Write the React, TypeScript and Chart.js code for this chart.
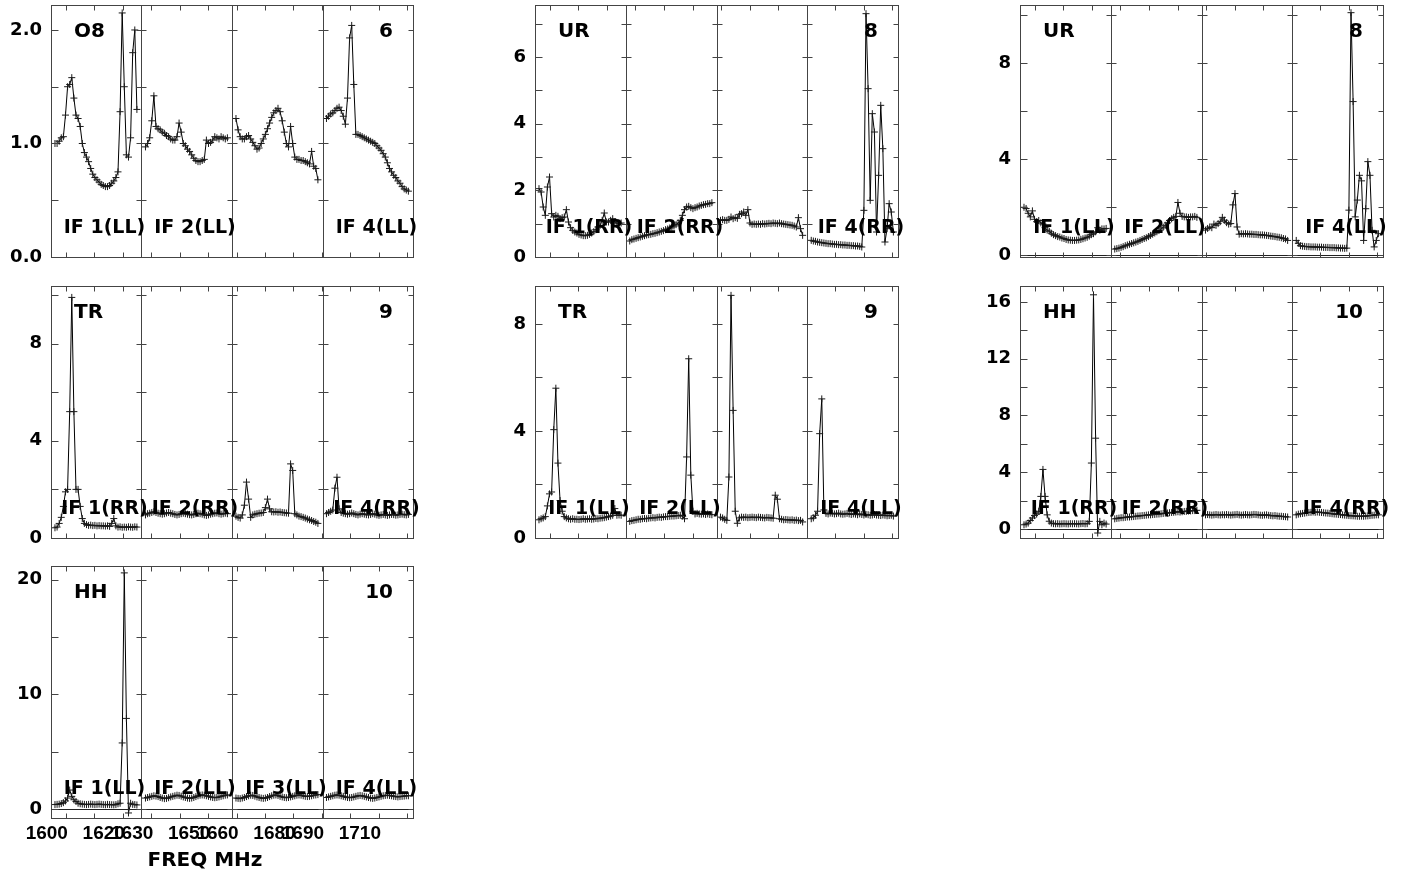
import React, { useEffect, useRef } from 'react';
import { Chart, registerables } from 'chart.js';

Chart.register(...registerables);

// ---------------- DATA (autocorrelation amplitude per channel, 40 channels per IF) ----------------
const O8_LL_IF1 = [1.0,1.0,1.02,1.05,1.06,1.25,1.5,1.52,1.58,1.4,1.25,1.22,1.15,1.0,0.92,0.88,0.84,0.78,0.73,0.7,0.68,0.66,0.64,0.63,0.62,0.62,0.63,0.65,0.67,0.7,0.75,1.28,2.15,1.5,0.9,0.88,1.05,1.8,2.0,1.3];
const O8_LL_IF2 = [0.97,1.0,1.05,1.2,1.42,1.15,1.13,1.12,1.1,1.09,1.07,1.06,1.04,1.03,1.03,1.06,1.18,1.1,1.0,0.98,0.95,0.93,0.9,0.87,0.85,0.84,0.84,0.85,0.86,1.03,1.0,1.01,1.03,1.06,1.05,1.04,1.06,1.05,1.04,1.05];
const O8_LL_IF3 = [1.22,1.12,1.06,1.04,1.04,1.06,1.07,1.04,1.01,0.98,0.95,0.96,1.0,1.04,1.08,1.13,1.18,1.23,1.27,1.29,1.31,1.28,1.2,1.1,1.0,0.97,1.15,1.0,0.88,0.86,0.86,0.85,0.85,0.84,0.83,0.82,0.93,0.8,0.78,0.68];
const O8_LL_IF4 = [1.22,1.24,1.26,1.27,1.29,1.31,1.32,1.29,1.24,1.17,1.4,1.93,2.04,1.52,1.08,1.08,1.07,1.06,1.05,1.04,1.03,1.02,1.01,1.0,0.98,0.96,0.94,0.91,0.88,0.83,0.78,0.75,0.72,0.7,0.67,0.65,0.62,0.6,0.59,0.58];

const UR_RR_IF1 = [2.05,1.95,1.5,1.25,2.1,2.4,1.3,1.2,1.25,1.22,1.15,1.18,1.2,1.42,1.05,0.88,0.8,0.75,0.72,0.68,0.66,0.64,0.64,0.65,0.68,0.72,0.76,0.82,0.9,0.95,1.1,1.32,1.05,1.05,1.1,1.15,1.05,1.02,1.0,1.02];
const UR_RR_IF2 = [0.48,0.52,0.54,0.56,0.58,0.6,0.62,0.64,0.66,0.67,0.68,0.7,0.71,0.73,0.75,0.77,0.79,0.82,0.84,0.87,0.9,0.93,0.97,1.02,1.1,1.25,1.42,1.5,1.52,1.48,1.45,1.48,1.5,1.53,1.55,1.57,1.58,1.6,1.6,1.63];
const UR_RR_IF3 = [1.1,1.12,1.1,1.1,1.13,1.2,1.15,1.18,1.16,1.28,1.3,1.35,1.25,1.42,1.02,0.98,0.99,0.98,0.99,0.98,1.0,0.99,1.0,1.01,1.0,1.02,1.01,1.0,1.02,1.0,0.99,0.98,0.97,0.96,0.95,0.93,0.9,1.18,0.85,0.65];
const UR_RR_IF4 = [0.5,0.48,0.47,0.45,0.44,0.43,0.42,0.41,0.4,0.4,0.39,0.38,0.38,0.37,0.37,0.36,0.36,0.35,0.35,0.34,0.34,0.33,0.33,0.32,0.3,1.4,7.3,5.05,1.7,4.3,3.75,0.75,2.45,4.55,3.25,0.45,0.85,1.6,1.35,0.75];

const UR_LL_IF1 = [2.0,1.95,1.75,1.6,1.85,1.5,1.4,1.45,1.35,1.3,1.15,1.05,1.0,0.92,0.86,0.82,0.78,0.76,0.72,0.7,0.66,0.64,0.63,0.62,0.62,0.63,0.64,0.66,0.69,0.72,0.75,0.8,0.86,0.9,0.98,1.15,1.05,1.1,1.1,1.12];
const UR_LL_IF2 = [0.26,0.28,0.3,0.33,0.36,0.4,0.43,0.46,0.49,0.52,0.55,0.58,0.62,0.66,0.7,0.73,0.78,0.83,0.88,0.93,0.98,1.03,1.1,1.17,1.25,1.35,1.45,1.52,1.58,1.62,2.2,1.75,1.62,1.6,1.6,1.58,1.6,1.6,1.62,1.58];
const UR_LL_IF3 = [1.05,1.12,1.18,1.15,1.3,1.25,1.32,1.4,1.58,1.46,1.36,1.3,1.32,2.1,2.57,1.18,0.88,0.9,0.89,0.9,0.89,0.88,0.88,0.87,0.87,0.86,0.85,0.85,0.84,0.83,0.82,0.8,0.79,0.78,0.76,0.75,0.73,0.7,0.68,0.62];
const UR_LL_IF4 = [0.62,0.5,0.4,0.38,0.37,0.36,0.36,0.35,0.35,0.35,0.34,0.34,0.34,0.33,0.33,0.33,0.32,0.32,0.32,0.31,0.31,0.3,0.3,0.29,0.3,1.88,10.1,6.4,1.6,2.3,3.33,3.1,0.62,1.94,3.9,3.33,1.04,0.35,0.62,0.9];

const TR_RR_IF1 = [0.42,0.45,0.6,0.85,1.3,1.9,2.0,5.2,9.9,5.2,2.0,2.0,1.3,0.8,0.6,0.55,0.52,0.53,0.51,0.52,0.5,0.51,0.5,0.5,0.49,0.5,0.48,0.6,0.8,0.5,0.45,0.46,0.44,0.45,0.44,0.46,0.45,0.44,0.46,0.45];
const TR_RR_IF2 = [0.95,1.0,1.02,1.05,1.08,1.05,1.02,1.0,0.98,1.0,1.03,1.05,1.02,1.0,0.97,0.95,0.97,1.0,1.02,1.0,0.98,0.96,0.95,0.97,1.0,1.02,1.0,0.98,0.95,0.93,0.95,0.98,1.0,1.02,1.03,1.0,0.98,1.0,1.02,1.0];
const TR_RR_IF3 = [0.9,0.85,0.82,0.95,1.35,2.3,1.6,0.85,0.95,0.98,1.0,1.02,1.03,1.05,1.25,1.6,1.2,1.08,1.07,1.08,1.06,1.07,1.05,1.04,1.03,1.02,3.05,2.78,1.0,0.95,0.9,0.88,0.85,0.82,0.78,0.75,0.72,0.68,0.65,0.6];
const TR_RR_IF4 = [1.0,1.05,1.1,1.15,2.05,2.5,1.2,1.05,1.02,1.0,0.98,1.0,1.03,1.0,0.97,0.95,0.98,1.0,0.98,0.96,0.95,0.97,1.0,0.98,0.95,0.93,0.95,0.97,0.95,0.93,0.95,0.97,0.96,0.94,0.95,0.97,0.98,0.96,0.95,0.97];

const TR_LL_IF1 = [0.68,0.72,0.75,0.8,1.2,1.65,1.72,4.05,5.6,2.8,1.4,1.0,0.8,0.75,0.72,0.7,0.72,0.7,0.7,0.69,0.7,0.72,0.7,0.71,0.72,0.7,0.71,0.73,0.72,0.74,0.75,0.76,0.78,0.8,0.82,0.85,1.1,0.85,0.86,0.85];
const TR_LL_IF2 = [0.62,0.65,0.66,0.68,0.7,0.7,0.72,0.73,0.72,0.74,0.75,0.76,0.75,0.77,0.78,0.77,0.79,0.8,0.8,0.81,0.82,0.82,0.83,0.84,0.85,0.82,0.72,3.03,6.7,2.35,1.0,0.9,0.92,0.9,0.89,0.9,0.88,0.9,0.88,0.87];
const TR_LL_IF3 = [0.78,0.75,0.7,0.66,2.28,9.07,4.77,1.0,0.55,0.75,0.78,0.77,0.78,0.76,0.77,0.78,0.77,0.76,0.78,0.77,0.76,0.75,0.77,0.76,0.75,0.74,1.6,1.45,0.72,0.7,0.68,0.69,0.68,0.67,0.68,0.66,0.67,0.65,0.66,0.6];
const TR_LL_IF4 = [0.72,0.75,0.85,1.0,3.9,5.2,1.05,0.92,0.9,0.93,0.92,0.9,0.91,0.93,0.9,0.89,0.9,0.92,0.9,0.88,0.9,0.89,0.87,0.9,0.88,0.86,0.88,0.87,0.85,0.86,0.88,0.86,0.85,0.84,0.86,0.85,0.83,0.84,0.85,0.82];

const HH_RR_IF1 = [0.3,0.35,0.42,0.6,0.78,0.95,1.05,1.25,2.3,4.2,2.3,1.0,0.55,0.42,0.38,0.37,0.38,0.36,0.37,0.38,0.37,0.36,0.38,0.37,0.38,0.37,0.36,0.38,0.39,0.37,0.38,0.54,4.65,16.5,6.4,-0.28,0.54,0.3,0.42,0.35];
const HH_RR_IF2 = [0.72,0.75,0.77,0.8,0.8,0.82,0.85,0.85,0.87,0.88,0.9,0.92,0.93,0.95,0.96,0.98,1.0,1.0,1.02,1.03,1.05,1.06,1.08,1.1,1.12,1.13,1.15,1.17,1.18,1.2,1.22,1.2,1.22,1.24,1.25,1.27,1.28,1.3,1.3,1.32];
const HH_RR_IF3 = [1.0,1.02,1.0,0.98,1.0,1.02,1.0,0.99,1.01,1.0,1.02,1.0,0.98,1.0,1.01,1.03,1.0,0.98,1.0,1.02,1.0,0.99,1.01,1.03,1.02,1.0,0.98,0.97,0.99,1.0,0.97,0.95,0.93,0.95,0.92,0.9,0.9,0.88,0.87,0.85];
const HH_RR_IF4 = [1.0,1.05,1.08,1.1,1.12,1.15,1.17,1.18,1.2,1.18,1.2,1.18,1.17,1.15,1.13,1.12,1.1,1.08,1.06,1.05,1.03,1.02,1.0,0.98,0.97,0.95,0.94,0.93,0.92,0.9,0.9,0.91,0.9,0.92,0.93,0.95,0.97,0.98,1.0,1.0];

const HH_LL_IF1 = [0.38,0.4,0.42,0.47,0.55,0.7,0.95,1.65,1.1,0.8,0.65,0.5,0.45,0.42,0.4,0.38,0.4,0.42,0.4,0.38,0.4,0.42,0.4,0.38,0.37,0.4,0.38,0.37,0.36,0.38,0.45,0.5,5.76,20.6,7.9,-0.35,0.5,0.4,0.38,0.35];
const HH_LL_IF2 = [0.95,1.0,1.05,1.1,1.15,1.12,1.08,1.0,0.95,0.9,0.92,0.98,1.05,1.1,1.15,1.2,1.18,1.12,1.05,1.0,0.95,0.92,0.95,1.0,1.08,1.15,1.2,1.22,1.2,1.15,1.1,1.05,1.0,0.98,1.0,1.05,1.1,1.15,1.2,1.22];
const HH_LL_IF3 = [0.95,0.92,0.9,0.95,1.0,1.08,1.15,1.2,1.18,1.12,1.05,1.0,0.95,0.92,0.95,1.0,1.08,1.15,1.2,1.22,1.18,1.1,1.05,1.0,0.98,1.0,1.05,1.1,1.15,1.2,1.22,1.2,1.15,1.1,1.08,1.1,1.15,1.2,1.22,1.25];
const HH_LL_IF4 = [1.0,1.05,1.1,1.15,1.2,1.22,1.2,1.15,1.1,1.05,1.0,0.98,1.0,1.05,1.1,1.15,1.18,1.15,1.1,1.05,1.0,0.95,0.92,0.95,1.0,1.05,1.1,1.15,1.18,1.2,1.18,1.15,1.1,1.08,1.05,1.08,1.1,1.12,1.15,1.15];

// frequency set-up (MHz)
const IF_EDGES = [1594.8, 1626.6, 1658.4, 1690.2, 1722.0];
const CHAN_OFFSET = 1.4;
const CHAN_WIDTH = 0.738;
const X_TICKS = [1600, 1610, 1620, 1630, 1640, 1650, 1660, 1670, 1680, 1690, 1700, 1710, 1720];
const X_LABELS = [1600, 1620, 1630, 1650, 1660, 1680, 1690, 1710];

// panels
const PANEL_NAMES = ['O8', 'UR', 'UR', 'TR', 'TR', 'HH', 'HH'];
const PANEL_NUMS = ['6', '8', '8', '9', '9', '10', '10'];
const PANEL_POLS = ['LL', 'RR', 'LL', 'RR', 'LL', 'RR', 'LL'];
const PANEL_SERIES = [
  [O8_LL_IF1, O8_LL_IF2, O8_LL_IF3, O8_LL_IF4],
  [UR_RR_IF1, UR_RR_IF2, UR_RR_IF3, UR_RR_IF4],
  [UR_LL_IF1, UR_LL_IF2, UR_LL_IF3, UR_LL_IF4],
  [TR_RR_IF1, TR_RR_IF2, TR_RR_IF3, TR_RR_IF4],
  [TR_LL_IF1, TR_LL_IF2, TR_LL_IF3, TR_LL_IF4],
  [HH_RR_IF1, HH_RR_IF2, HH_RR_IF3, HH_RR_IF4],
  [HH_LL_IF1, HH_LL_IF2, HH_LL_IF3, HH_LL_IF4],
];
const Y_MIN = [0, 0, -0.07, 0, 0, -0.63, -0.79];
const Y_MAX = [2.22, 7.56, 10.42, 10.37, 9.42, 17.12, 21.2];
const Y_STEP = [0.5, 1, 2, 2, 2, 2, 5];
const Y_LABEL_STEP = [1, 2, 4, 4, 4, 4, 10];
const Y_DECIMALS = [1, 0, 0, 0, 0, 0, 0];
const IF_LABEL_SHOWN = [
  [1, 1, 0, 1], [1, 1, 0, 1], [1, 1, 0, 1], [1, 1, 0, 1], [1, 1, 0, 1], [1, 1, 0, 1], [1, 1, 1, 1],
];
const X_AXIS_TITLE = 'FREQ MHz';

// layout (page pixels)
const PANEL_BOXES = [
  { left: 51, top: 5, width: 362, height: 252 },
  { left: 535, top: 5, width: 363, height: 252 },
  { left: 1020, top: 5, width: 363, height: 252 },
  { left: 51, top: 286, width: 362, height: 252 },
  { left: 535, top: 286, width: 363, height: 252 },
  { left: 1020, top: 286, width: 363, height: 252 },
  { left: 51, top: 566, width: 362, height: 252 },
];
const Y_AXIS_W = 50;
const PAD_TOP = 15;
const PAD_RIGHT = 20;
const FONT = '"DejaVu Sans", sans-serif';
const TICK_FONT_X = '"Liberation Sans Narrow", "Liberation Sans", Arial, sans-serif';

const panelDecor = {
  id: 'panelDecor',
  afterDatasetsDraw(chart: any, _args: any, opts: any) {
    const p = opts.panel as number;
    const { ctx, chartArea: a, scales } = chart;
    const xs = scales.x;
    const ys = scales.y;
    const px = (v: number) => Math.round(v) + 0.5;
    const line = (x0: number, y0: number, x1: number, y1: number) => {
      ctx.beginPath();
      ctx.moveTo(x0, y0);
      ctx.lineTo(x1, y1);
      ctx.stroke();
    };
    ctx.save();
    ctx.strokeStyle = '#444';
    ctx.lineWidth = 1;
    const L = px(a.left), R = px(a.right), T = px(a.top), B = px(a.bottom);
    ctx.strokeRect(L, T, R - L, B - T);
    const bounds = IF_EDGES.map((e) => px(xs.getPixelForValue(e)));
    bounds.slice(1, 4).forEach((x) => line(x, T, x, B));
    if (Y_MIN[p] < 0) {
      const y0 = px(ys.getPixelForValue(0));
      ctx.strokeStyle = '#222';
      line(L, y0, R, y0);
      ctx.strokeStyle = '#444';
    }
    ys.ticks.forEach((t: any) => {
      const y = px(ys.getPixelForValue(t.value));
      bounds.forEach((bx, i) => {
        const x0 = i === 0 ? bx : bx - 5;
        const x1 = i === 4 ? bx : bx + (i === 0 ? 7 : 5);
        line(x0, y, x1, y);
      });
    });
    xs.ticks.forEach((t: any) => {
      const x = px(xs.getPixelForValue(t.value));
      line(x, B, x, B - 5);
      line(x, T, x, T + 5);
    });
    // texts
    ctx.fillStyle = '#000';
    ctx.textBaseline = 'middle';
    ctx.font = `bold 20px ${FONT}`;
    ctx.textAlign = 'left';
    ctx.fillText(PANEL_NAMES[p], a.left + 23, a.top + 27);
    ctx.textAlign = 'right';
    ctx.fillText(PANEL_NUMS[p], a.right - 20, a.top + 27);
    ctx.font = `bold 19px ${FONT}`;
    ctx.textAlign = 'center';
    for (let k = 0; k < 4; k++) {
      if (!IF_LABEL_SHOWN[p][k]) continue;
      const cx = (bounds[k] + bounds[k + 1]) / 2 + 8;
      ctx.fillText(`IF ${k + 1}(${PANEL_POLS[p]})`, cx, a.bottom - 29);
    }
    if (p === 6) {
      ctx.font = `bold 20px ${FONT}`;
      ctx.fillText(X_AXIS_TITLE, (a.left + a.right) / 2 - 27, a.bottom + 43);
    }
    ctx.restore();
  },
};

function Panel({ index }: { index: number }) {
  const ref = useRef<HTMLCanvasElement>(null);
  const box = PANEL_BOXES[index];
  const xh = index === 6 ? 62 : 14;
  const cw = Y_AXIS_W + box.width + PAD_RIGHT;
  const ch = PAD_TOP + box.height + xh;

  useEffect(() => {
    if (!ref.current) return;
    const p = index;
    const datasets = PANEL_SERIES[p].map((vals, k) => ({
      data: vals.map((v, i) => ({ x: IF_EDGES[k] + CHAN_OFFSET + i * CHAN_WIDTH, y: v })),
      borderColor: '#000',
      borderWidth: 1,
      pointStyle: 'cross',
      pointRadius: 3.5,
      pointBorderColor: '#1a1a1a',
      pointBorderWidth: 1,
      pointBackgroundColor: 'rgba(0,0,0,0)',
      tension: 0,
      fill: false,
    }));
    const step = Y_STEP[p];
    const chart = new Chart(ref.current, {
      type: 'line',
      data: { datasets } as any,
      plugins: [panelDecor],
      options: {
        animation: false,
        responsive: false,
        events: [],
        layout: { padding: { top: PAD_TOP, right: PAD_RIGHT, left: 0, bottom: 0 } },
        plugins: {
          legend: { display: false },
          tooltip: { enabled: false },
          panelDecor: { panel: p },
        } as any,
        scales: {
          x: {
            type: 'linear',
            min: IF_EDGES[0],
            max: IF_EDGES[4],
            grid: { display: false, drawTicks: false },
            border: { display: false },
            afterBuildTicks: (s: any) => {
              s.ticks = X_TICKS.map((v) => ({ value: v }));
            },
            afterFit: (s: any) => {
              s.height = xh;
              s.paddingLeft = 0;
              s.paddingRight = 0;
            },
            ticks: {
              display: p === 6,
              autoSkip: false,
              maxRotation: 0,
              minRotation: 0,
              labelOffset: -19,
              padding: 4,
              color: '#000',
              font: { family: TICK_FONT_X, weight: 'bold', size: 19 },
              callback: (v: any) => (X_LABELS.includes(Number(v)) ? String(v) : ''),
            },
          },
          y: {
            type: 'linear',
            min: Y_MIN[p],
            max: Y_MAX[p],
            grid: { display: false, drawTicks: false },
            border: { display: false },
            afterBuildTicks: (s: any) => {
              const t: any[] = [];
              for (let k = Math.ceil(Y_MIN[p] / step - 1e-9); k * step <= Y_MAX[p] + 1e-9; k++) {
                t.push({ value: +(k * step).toFixed(4) });
              }
              s.ticks = t;
            },
            afterFit: (s: any) => {
              s.width = Y_AXIS_W;
              s.paddingTop = 0;
              s.paddingBottom = 0;
            },
            ticks: {
              padding: 9,
              color: '#000',
              font: { family: FONT, weight: 'bold', size: 18 },
              callback: (v: any) => {
                const r = Number(v) / Y_LABEL_STEP[p];
                return Math.abs(r - Math.round(r)) < 1e-6 ? Number(v).toFixed(Y_DECIMALS[p]) : '';
              },
            },
          },
        },
      } as any,
    });
    return () => chart.destroy();
  }, [index]);

  return (
    <canvas
      ref={ref}
      width={cw}
      height={ch}
      style={{
        position: 'absolute',
        left: box.left - Y_AXIS_W,
        top: box.top - PAD_TOP,
        width: cw,
        height: ch,
      }}
    />
  );
}

export default function App() {
  return (
    <div
      style={{
        position: 'absolute',
        left: 0,
        top: 0,
        width: 1417,
        height: 873,
        overflow: 'hidden',
        background: '#fff',
      }}
    >
      {PANEL_BOXES.map((_, i) => (
        <Panel key={i} index={i} />
      ))}
    </div>
  );
}
